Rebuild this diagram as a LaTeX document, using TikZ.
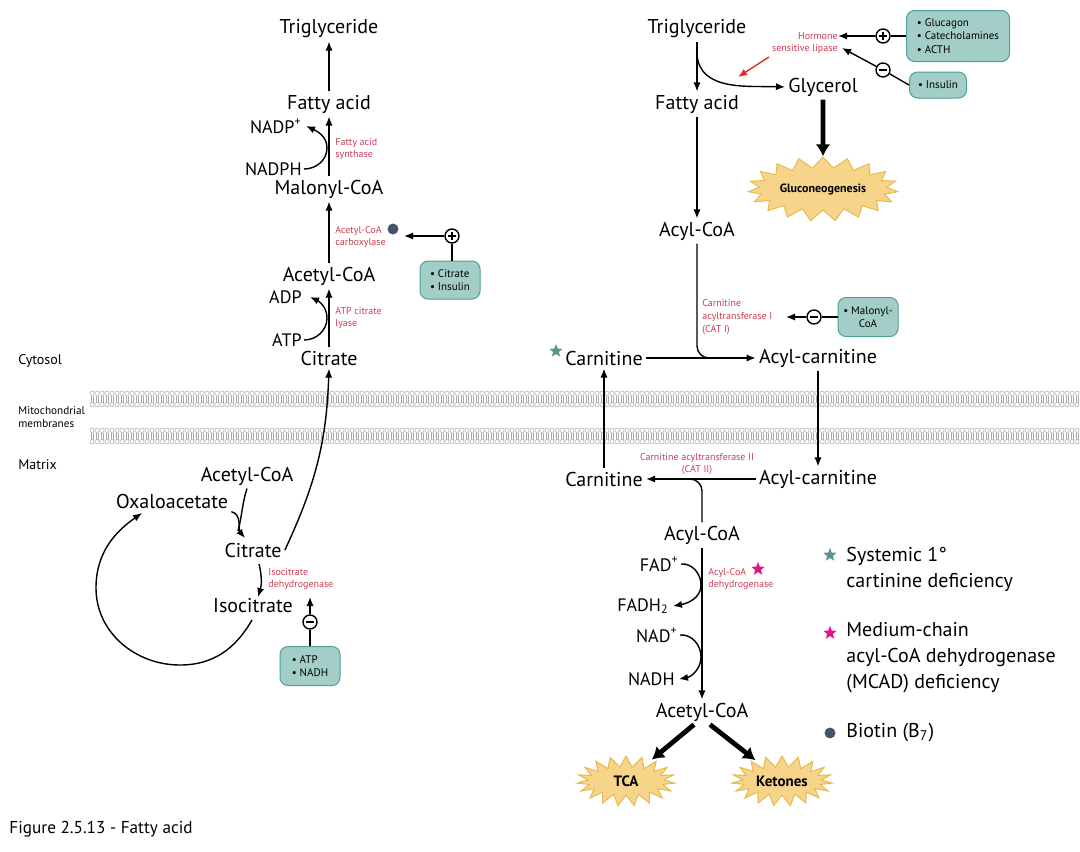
\documentclass[tikz,border=0pt]{standalone}
\usepackage{fontspec}
\setmainfont{PT Sans}
\usetikzlibrary{arrows.meta,positioning,shapes.symbols,shapes.geometric}
\definecolor{enzred}{RGB}{205,60,85}
\definecolor{hslred}{RGB}{230,40,45}
\definecolor{boxfill}{RGB}{163,206,200}
\definecolor{boxline}{RGB}{80,160,150}
\definecolor{tealstar}{RGB}{90,150,145}
\definecolor{pinkstar}{RGB}{225,20,135}
\definecolor{biotin}{RGB}{70,84,105}
\definecolor{burstfill}{RGB}{246,212,138}
\definecolor{burstline}{RGB}{232,185,80}
\definecolor{lipid}{RGB}{170,170,170}
\tikzset{
  mol/.style={font=\fontsize{10}{12}\selectfont, inner sep=1.5pt},
  cof/.style={font=\fontsize{9}{10}\selectfont, inner sep=1pt},
  enz/.style={text=enzred, font=\fontsize{5}{6.3}\selectfont, align=left, anchor=west, inner sep=0pt},
  regbox/.style={draw=boxline, fill=boxfill, rounded corners=4pt, line width=0.5pt,
    font=\fontsize{5.5}{6.6}\selectfont, align=left, inner sep=2pt},
  sign/.style={circle, draw, line width=0.7pt, inner sep=0pt, minimum size=7pt, fill=white},
  plussign/.style={sign, path picture={\draw[line width=0.8pt]
    ([xshift=-2pt]path picture bounding box.center) -- ([xshift=2pt]path picture bounding box.center)
    ([yshift=-2pt]path picture bounding box.center) -- ([yshift=2pt]path picture bounding box.center);}},
  minussign/.style={sign, path picture={\draw[line width=0.8pt]
    ([xshift=-2pt]path picture bounding box.center) -- ([xshift=2pt]path picture bounding box.center);}},
  flow/.style={-{Latex[length=4.5pt,width=3.6pt]}, line width=0.7pt},
  bigflow/.style={-{Latex[length=6pt,width=7.5pt]}, line width=2.4pt},
  burst/.style={starburst, starburst points=19, starburst point height=5.5pt, random starburst=0,
    draw=burstline, fill=burstfill, line width=0.5pt, inner sep=1pt},
  mark star/.style={star, star points=5, star point ratio=2.3, inner sep=0pt, minimum size=7pt},
  side/.style={font=\fontsize{10}{13}\selectfont, anchor=west, align=left, inner sep=0pt},
  zone/.style={font=\fontsize{7}{8}\selectfont, anchor=west, inner sep=0pt},
}
\begin{document}
\begin{tikzpicture}[x=0.5pt,y=-0.5pt]
  \useasboundingbox (0,0) rectangle (1080,851);
  %% Mitochondrial membranes
  \foreach \m in {391,428} {
    \foreach \x in {92,97,...,1078} {
      \draw[lipid, line width=0.25pt] (\x-0.9,\m+4.5) -- (\x-0.9,\m+11.5) (\x+0.9,\m+4.5) -- (\x+0.9,\m+11.5);
      \draw[lipid, line width=0.25pt] (\x,\m+2.3) circle (2.2) (\x,\m+13.7) circle (2.2);
    }
  }
  \node[zone] (cytosol) at (18,361) {Cytosol};
  \node[zone, font=\fontsize{5.6}{6.8}\selectfont, align=left] (membr) at (18,417) {Mitochondrial\\membranes};
  \node[zone] (matrix) at (18,465) {Matrix};
  %% Fatty acid synthesis (cytosol)
  \node[mol] (tgL) at (329,29) {Triglyceride};
  \node[mol] (faL) at (329,104) {Fatty acid};
  \node[mol] (malL) at (329,189) {Malonyl-CoA};
  \node[mol] (accL) at (329,276) {Acetyl-CoA};
  \node[mol] (citL) at (329,358) {Citrate};
  \node[cof, anchor=east] (nadpL) at (304,126) {NADP\textsuperscript{+}};
  \node[cof, anchor=east] (nadphL) at (304,169) {NADPH};
  \node[cof, anchor=east] (adpL) at (304,297) {ADP};
  \node[cof, anchor=east] (atpL) at (304,340) {ATP};
  \node[enz] (fas) at (335,149) {Fatty acid\\synthase};
  \node[enz] (acc) at (335,237) {Acetyl-CoA\\carboxylase};
  \node[enz] (acl) at (335,318) {ATP citrate\\lyase};
  \node[circle, fill=biotin, minimum size=5.5pt, inner sep=0pt] (b7acc) at (393,229) {};
  \draw[flow] (faL) -- (tgL);
  \draw[flow] (malL) -- (faL);
  \draw[flow] (accL) -- (malL);
  \draw[flow] (citL) -- (accL);
  \draw[flow] (nadphL.east) to[out=0,in=-90] (327,148) to[out=90,in=-25] ([xshift=1pt]nadpL.east);
  \draw[flow] (atpL.east) to[out=0,in=-90] (327,318) to[out=90,in=-25] ([xshift=3pt]adpL.east);
  \node[regbox, minimum width=30pt, minimum height=19pt] (boxACC) at (450,280) {\textbullet\ Citrate\\\textbullet\ Insulin};
  \node[plussign] (plusACC) at (452,236) {};
  \coordinate (accIn) at (404,236);
  \draw[line width=0.7pt] (boxACC.north -| plusACC) -- (plusACC);
  \draw[flow] (plusACC) -- (accIn);
  %% Matrix, left
  \node[mol] (accM) at (247,476) {Acetyl-CoA};
  \node[mol] (oaaM) at (172,501) {Oxaloacetate};
  \node[mol] (citM) at (253,550) {Citrate};
  \node[mol] (isoM) at (253,606) {Isocitrate};
  \node[enz] (idh) at (268,579) {Isocitrate\\dehydrogenase};
  \node[regbox, minimum width=30pt, minimum height=19.5pt] (boxIDH) at (310,666) {\textbullet\ ATP\\\textbullet\ NADH};
  \node[minussign] (minusIDH) at (310,622) {};
  \coordinate (idhIn) at (310,597);
  \draw[line width=0.7pt] (boxIDH) -- (minusIDH);
  \draw[flow] (minusIDH) -- (idhIn);
  \draw[flow] (oaaM.south east) to[out=-15,in=130] (245,538);
  \draw[line width=0.7pt] (accM.south) to[out=-108,in=75] (238,531);
  \draw[flow] (259,564) to[bend left=15] (258,597);
  \draw[flow] (citM.east) to[out=65,in=-92] (citL.south);
  \draw[flow] (252,620) to[out=-120,in=0] (180,665) to[out=180,in=-90] (96,588) to[out=90,in=-145] (142,513);
  %% Lipolysis (cytosol, right)
  \node[mol] (tgR) at (697,29) {Triglyceride};
  \node[mol] (faR) at (697,104) {Fatty acid};
  \node[mol] (glyR) at (823,87) {Glycerol};
  \coordinate (tgSplit) at (697,55);
  \draw[flow] (tgR) -- (faR);
  \draw[flow] (tgSplit) to[out=-85,in=178] (glyR.west);
  \node[enz, anchor=east, align=right] (hsl) at (838,43) {Hormone\\sensitive lipase};
  \coordinate (hslTail) at (769,57);
  \coordinate (hslTip) at (738,77);
  \draw[flow, hslred] (hslTail) -- (hslTip);
  \node[regbox, minimum width=51.5pt, minimum height=25.5pt] (boxHSL) at (958,36) {\textbullet\ Glucagon\\\textbullet\ Catecholamines\\\textbullet\ ACTH};
  \node[regbox, minimum width=28.5pt, minimum height=13pt] (boxIns) at (938,85) {\textbullet\ Insulin};
  \node[plussign] (plusHSL) at (883,36) {};
  \node[minussign] (minusHSL) at (883,70) {};
  \coordinate (hslIn) at (842,48);
  \draw[line width=0.7pt] (boxHSL.west |- plusHSL) -- (plusHSL);
  \draw[flow] (plusHSL) -- (plusHSL -| hsl.east);
  \draw[line width=0.7pt] (boxIns.west) -- (minusHSL);
  \draw[flow] (minusHSL) -- (hslIn);
  \node[burst, minimum width=70pt, minimum height=32pt, font=\bfseries\fontsize{6}{7}\selectfont] (gng) at (823,189) {Gluconeogenesis};
  \draw[bigflow] (glyR) -- (gng);
  %% Carnitine shuttle
  \node[mol] (acylR) at (697,231) {Acyl-CoA};
  \node[mol] (carnC) at (604,358) {Carnitine};
  \node[mol] (acarnC) at (818,358) {Acyl-carnitine};
  \node[mark star, fill=tealstar] (starCarn) at (556,351) {};
  \coordinate (cat1Join) at (725,358);
  \draw[flow] (faR) -- (acylR);
  \draw[flow] (carnC) -- (acarnC);
  \draw[line width=0.7pt, rounded corners=6pt] (acylR.south) |- (cat1Join);
  \node[enz] (cat1) at (702,317) {Carnitine\\acyltransferase I\\(CAT I)};
  \node[regbox, align=center, minimum width=30pt, minimum height=19.5pt] (boxMal) at (868,317) {\textbullet\ Malonyl-\\CoA};
  \node[minussign] (minusCAT) at (814,317) {};
  \coordinate (cat1In) at (786,317);
  \draw[line width=0.7pt] (boxMal.west) -- (minusCAT);
  \draw[flow] (minusCAT) -- (cat1In);
  \node[mol] (carnM) at (604,479) {Carnitine};
  \node[mol] (acarnM) at (818,479) {Acyl-carnitine};
  \node[enz, anchor=center, align=center] (cat2) at (697,464) {Carnitine acyltransferase II\\(CAT II)};
  \draw[flow] (acarnC) -- (acarnM);
  \draw[flow] (acarnM) -- (carnM);
  \draw[flow] (carnM) -- (carnC);
  %% Beta oxidation
  \node[mol] (acylM) at (702,535) {Acyl-CoA};
  \coordinate (cat2Split) at (688,479);
  \draw[line width=0.7pt, rounded corners=6pt] (cat2Split) -| (acylM.north);
  \node[cof, anchor=east] (fad) at (681,564) {FAD\textsuperscript{+}};
  \node[cof, anchor=east] (fadh) at (671,606) {FADH\textsubscript{2}};
  \node[cof, anchor=east] (nad) at (680,635) {NAD\textsuperscript{+}};
  \node[cof, anchor=east] (nadh) at (677,679) {NADH};
  \node[enz] (acad) at (708,579) {Acyl-CoA\\dehydrogenase};
  \node[mark star, fill=pinkstar] (starAcad) at (758,569) {};
  \node[mol] (acetR) at (702,712) {Acetyl-CoA};
  \draw[flow] (acylM) -- (acetR);
  \draw[flow] (fad.east) to[out=5,in=90] (701,585) to[out=-90,in=10] ([xshift=1pt]fadh.east);
  \draw[flow] (nad.east) to[out=5,in=90] (701,657) to[out=-90,in=10] ([xshift=1pt]nadh.east);
  \node[burst, minimum width=49pt, minimum height=25pt, font=\bfseries\fontsize{7.5}{8}\selectfont] (tca) at (626,781) {TCA};
  \node[burst, minimum width=49pt, minimum height=25pt, font=\bfseries\fontsize{7.5}{8}\selectfont] (ket) at (782,781) {Ketones};
  \draw[bigflow, shorten >=5pt] ([xshift=-4pt]acetR.south) -- (tca);
  \draw[bigflow, shorten >=5pt] ([xshift=4pt]acetR.south) -- (ket);
  %% Legend
  \node[mark star, fill=tealstar] (legStarSys) at (830,555) {};
  \node[side] (legSys) at (846,569) {Systemic 1°\\cartinine deficiency};
  \node[mark star, fill=pinkstar] (legStarMcad) at (830,633) {};
  \node[side] (legMcad) at (846,658) {Medium-chain\\acyl-CoA dehydrogenase\\(MCAD) deficiency};
  \node[circle, fill=biotin, minimum size=5.5pt, inner sep=0pt] (legDot) at (830,733) {};
  \node[side] (legB7) at (846,733) {Biotin (B\textsubscript{7})};
  \node[anchor=west, inner sep=0pt, font=\fontsize{8.6}{10}\selectfont] (caption) at (9,829) {Figure 2.5.13 - Fatty acid};
\end{tikzpicture}
\end{document}
